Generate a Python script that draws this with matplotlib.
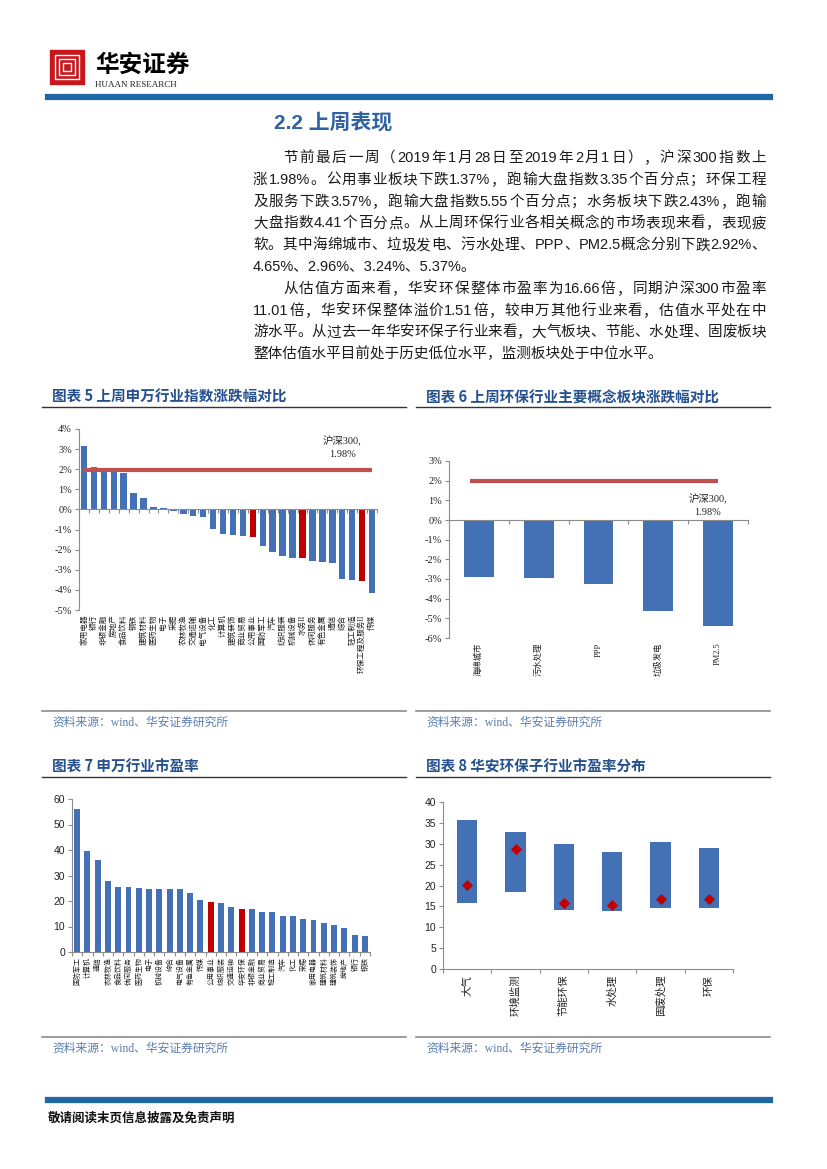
import re
import matplotlib
matplotlib.use("Agg")
import matplotlib.pyplot as plt
import matplotlib.transforms as mtransforms
from matplotlib.patches import Rectangle

W, H = 827, 1169

# ---------------- data ----------------
hs300 = 1.98

sw_week_names = ["家用电器", "银行", "非银金融", "房地产", "食品饮料", "钢铁", "建筑材料", "医药生物",
                 "电子", "采掘", "农林牧渔", "交通运输", "电气设备", "化工", "计算机", "建筑装饰",
                 "商业贸易", "公用事业", "国防军工", "汽车", "纺织服装", "机械设备", "水务II", "休闲服务",
                 "有色金属", "通信", "综合", "轻工制造", "环保工程及服务II", "传媒"]
sw_week_chg = [3.17, 2.10, 1.88, 1.88, 1.80, 0.83, 0.55, 0.10, 0.05, -0.07, -0.23, -0.32, -0.40,
               -0.97, -1.22, -1.27, -1.33, -1.37, -1.80, -2.13, -2.30, -2.42, -2.43, -2.57, -2.63,
               -2.64, -3.48, -3.49, -3.57, -4.15]
sw_week_hl = ["公用事业", "水务II", "环保工程及服务II"]

concept_names = ["海绵城市", "污水处理", "PPP", "垃圾发电", "PM2.5"]
concept_chg = [-2.92, -2.96, -3.24, -4.65, -5.37]

pe_names = ["国防军工", "计算机", "通信", "农林牧渔", "食品饮料", "休闲服务", "医药生物", "电子",
            "机械设备", "综合", "电气设备", "有色金属", "传媒", "公用事业", "纺织服装", "交通运输",
            "华安环保", "非银金融", "商业贸易", "轻工制造", "汽车", "化工", "采掘", "家用电器",
            "建筑材料", "建筑装饰", "房地产", "银行", "钢铁"]
pe_values = [56.0, 39.6, 35.9, 27.7, 25.6, 25.5, 25.1, 24.9, 24.9, 24.7, 24.6, 23.3, 20.4, 19.6,
             19.3, 17.5, 16.7, 16.8, 15.7, 15.6, 14.1, 14.0, 13.0, 12.5, 11.2, 10.4, 9.5, 6.7, 6.4]
pe_hl = ["公用事业", "华安环保"]

sub_names = ["大气", "环境监测", "节能环保", "水处理", "固废处理", "环保"]
sub_high = [35.8, 32.7, 30.0, 28.0, 30.3, 29.1]
sub_low = [15.9, 18.5, 14.2, 14.0, 14.7, 14.6]
sub_now = [20.2, 28.8, 15.8, 15.3, 16.7, 16.7]

para1 = ["节前最后一周（2019 年 1 月 28 日至 2019 年 2 月 1 日），沪深 300 指数上",
         "涨 1.98%。公用事业板块下跌1.37%，跑输大盘指数 3.35 个百分点；环保工程",
         "及服务下跌3.57%，跑输大盘指数 5.55 个百分点；水务板块下跌2.43%，跑输",
         "大盘指数 4.41 个百分点。从上周环保行业各相关概念的市场表现来看，表现疲",
         "软。其中海绵城市、垃圾发电、污水处理、PPP、PM2.5 概念分别下跌2.92%、",
         "4.65%、2.96%、3.24%、5.37%。"]
para2 = ["从估值方面来看，华安环保整体市盈率为 16.66 倍，同期沪深 300 市盈率",
         "11.01 倍，华安环保整体溢价 1.51 倍，较申万其他行业来看，估值水平处在中",
         "游水平。从过去一年华安环保子行业来看，大气板块、节能、水处理、固废板块",
         "整体估值水平目前处于历史低位水平，监测板块处于中位水平。"]

# ---------------- style ----------------
SANS = ["Liberation Sans", "Noto Sans CJK SC"]
SERIF = ["Liberation Serif", "Noto Sans CJK SC"]
CJK = ["Noto Sans CJK SC", "DejaVu Sans"]
BLUE = "#4470B6"
RED = "#C00000"
LINE_RED = "#C0504D"
TITLE_BLUE = "#24508F"
SRC_BLUE = "#5B7DB0"
BAR_BLUE = "#2067A6"
GRAY = "#8C8C8C"

fig = plt.figure(figsize=(W / 100, H / 100), dpi=100)
renderer = fig.canvas.get_renderer()


def fx(x):
    return x / W


def fy(y):
    return 1 - y / H


def box(x0, y0, x1, y1):
    return [fx(x0), fy(y1), (x1 - x0) / W, (y1 - y0) / H]


def hline(x0, x1, y, color, lw):
    fig.add_artist(plt.Line2D([fx(x0), fx(x1)], [fy(y), fy(y)], color=color, lw=lw))


def justify(line, x0, x1, y, **kw):
    toks = re.findall(r"[A-Za-z0-9.%]+|\S", line)
    arts = [fig.text(0, fy(y), t, va="center", ha="left", **kw) for t in toks]
    widths = [a.get_window_extent(renderer).width for a in arts]
    gap = (x1 - x0 - sum(widths)) / (len(toks) - 1)
    x = x0
    for a, w in zip(arts, widths):
        a.set_x(fx(x))
        x += w + gap


# ---------------- header / footer ----------------
fig.add_artist(Rectangle((fx(50), fy(84)), 34 / W, 34 / H, color="#C8161D", transform=fig.transFigure))
for k in range(3):
    fig.add_artist(Rectangle((fx(55 + 4 * k), fy(79 - 4 * k)), (24 - 8 * k) / W, (24 - 8 * k) / H,
                             fill=False, ec="white", lw=1.0, transform=fig.transFigure))
fig.text(fx(95), fy(65), "华安证券", fontsize=17, family=CJK, fontweight="bold", va="center", ha="left")
fig.text(fx(95), fy(85), "HUAAN RESEARCH", fontsize=6.5, family=SERIF, va="center", ha="left",
         color="#222222")
hline(48, 770, 97, BAR_BLUE, 4.5)
hline(48, 770, 1100, BAR_BLUE, 4.5)
fig.text(fx(48), fy(1118), "敬请阅读末页信息披露及免责声明", fontsize=9, family=CJK,
         fontweight="bold", va="center", ha="left", color="#111111")

# ---------------- body text ----------------
fig.text(fx(274), fy(123), "2.2 上周表现", fontsize=15, family=SANS, fontweight="bold",
         color="#2F62A0", va="center", ha="left")
body_kw = dict(fontsize=10.5, family=SANS, color="#1A1A1A")
lines = [(l, i == 0, i == len(para1) - 1) for i, l in enumerate(para1)] + \
        [(l, i == 0, i == len(para2) - 1) for i, l in enumerate(para2)]
for n, (l, indent, last) in enumerate(lines):
    y = 158 + n * 21.8
    x0 = 283 if indent else 253
    if last:
        fig.text(fx(x0), fy(y), l, va="center", ha="left", **body_kw)
    else:
        justify(l, x0, 766, y, **body_kw)


# ---------------- chart frames ----------------
def frame(x0, x1, title, y_top, y_src):
    fig.text(fx(x0 + 10), fy(y_top - 10), title, fontsize=10.5, family=CJK, fontweight="bold",
             color=TITLE_BLUE, va="center", ha="left")
    hline(x0, x1, y_top, "#333333", 1.0)
    hline(x0, x1, y_src, GRAY, 1.2)
    fig.text(fx(x0 + 10), fy(y_src + 12), "资料来源：wind、华安证券研究所", fontsize=8.5, family=SERIF,
             color=SRC_BLUE, va="center", ha="left")


frame(42, 406, "图表 5 上周申万行业指数涨跌幅对比", 407, 711)
frame(416, 770, "图表 6 上周环保行业主要概念板块涨跌幅对比", 407, 711)
frame(42, 406, "图表 7 申万行业市盈率", 777, 1037)
frame(416, 770, "图表 8 华安环保子行业市盈率分布", 777, 1037)


def style_axes(ax, zero_spine):
    for s in ["top", "right"]:
        ax.spines[s].set_visible(False)
    for s in ["left", "bottom"]:
        ax.spines[s].set_color(GRAY)
        ax.spines[s].set_linewidth(0.8)
    if zero_spine:
        ax.spines["bottom"].set_position(("data", 0))
    ax.tick_params(axis="both", colors=GRAY, length=3, width=0.8, direction="out")
    ax.tick_params(axis="y", pad=2)


def cat_labels(ax, names, fs, off=-0.025):
    tr = mtransforms.blended_transform_factory(ax.transData, ax.transAxes)
    for i, name in enumerate(names):
        ax.text(i, off, name, transform=tr, rotation=90, ha="center", va="top", fontsize=fs,
                family=SERIF, color="#222222")


def cat_ticks(ax, n):
    ax.set_xticks([i - 0.5 for i in range(n + 1)])
    ax.set_xticklabels([])
    ax.set_xlim(-0.5, n - 0.5)


def pct_ticks(ax, lo, hi, fs, fam):
    ax.set_ylim(lo, hi)
    ax.set_yticks(range(lo, hi + 1))
    ax.set_yticklabels([f"{v}%" for v in range(lo, hi + 1)], fontsize=fs, family=fam, color="#222222")


# Chart 5
ax5 = fig.add_axes(box(79, 429, 377, 610))
x5 = list(range(len(sw_week_names)))
c5 = [RED if n in sw_week_hl else BLUE for n in sw_week_names]
ax5.bar(x5, sw_week_chg, width=0.65, color=c5, zorder=2)
ax5.plot([x5[0], x5[-1]], [hs300, hs300], color=LINE_RED, lw=3, zorder=3, solid_capstyle="butt")
style_axes(ax5, True)
cat_ticks(ax5, len(x5))
pct_ticks(ax5, -5, 4, 7.5, SERIF)
cat_labels(ax5, sw_week_names, 5.5)
ax5.text(x5[-4], hs300 + 1.1, "沪深300,\n1.98%", ha="center", va="center", fontsize=7.5,
         family=SERIF, color="#222222", linespacing=1.6)

# Chart 6
ax6 = fig.add_axes(box(449, 461, 748, 638))
x6 = list(range(len(concept_names)))
ax6.bar(x6, concept_chg, width=0.5, color=BLUE, zorder=2)
ax6.plot([x6[0] - 0.15, x6[-1]], [hs300, hs300], color=LINE_RED, lw=3, zorder=3,
         solid_capstyle="butt")
style_axes(ax6, True)
cat_ticks(ax6, len(x6))
pct_ticks(ax6, -6, 3, 7.5, SERIF)
cat_labels(ax6, concept_names, 6)
ax6.text(x6[-1] - 0.17, hs300 - 1.25, "沪深300,\n1.98%", ha="center", va="center", fontsize=7.5,
         family=SERIF, color="#222222", linespacing=1.6)

# Chart 7
ax7 = fig.add_axes(box(72, 799, 370, 952))
x7 = list(range(len(pe_names)))
c7 = [RED if n in pe_hl else BLUE for n in pe_names]
ax7.bar(x7, pe_values, width=0.58, color=c7, zorder=2)
style_axes(ax7, False)
cat_ticks(ax7, len(x7))
ax7.set_ylim(0, 60)
ax7.set_yticks(range(0, 61, 10))
ax7.set_yticklabels([str(v) for v in range(0, 61, 10)], fontsize=7.5, family=SANS, color="#222222")
cat_labels(ax7, pe_names, 5, off=-0.03)

# Chart 8
ax8 = fig.add_axes(box(443, 802, 733, 969))
x8 = list(range(len(sub_names)))
ax8.bar(x8, [h - l for h, l in zip(sub_high, sub_low)], bottom=sub_low, width=0.42, color=BLUE,
        zorder=2)
ax8.scatter(x8, sub_now, marker="D", s=32, color=RED, zorder=3, linewidths=0)
style_axes(ax8, False)
cat_ticks(ax8, len(x8))
ax8.set_ylim(0, 40)
ax8.set_yticks(range(0, 41, 5))
ax8.set_yticklabels([str(v) for v in range(0, 41, 5)], fontsize=7.5, family=SANS, color="#222222")
cat_labels(ax8, sub_names, 7.5, off=-0.035)

fig.savefig("out.png", dpi=100)
